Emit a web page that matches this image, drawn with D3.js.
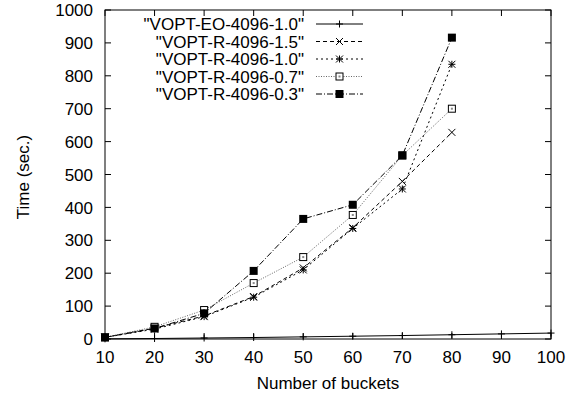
<!DOCTYPE html>
<html><head><meta charset="utf-8">
<script src="https://cdn.jsdelivr.net/npm/d3@7"></script>
<style>body{margin:0;background:#fff}svg{display:block}text{font-family:"Liberation Sans",Arial,sans-serif;fill:#000}</style>
</head><body>
<script>
const buckets = [10,20,30,40,50,60,70,80,90,100];
const seriesNames = ['"VOPT-EO-4096-1.0"','"VOPT-R-4096-1.5"','"VOPT-R-4096-1.0"','"VOPT-R-4096-0.7"','"VOPT-R-4096-0.3"'];
const eo10  = [0.5,1.5,3,4.5,6.5,8.5,10.5,13,15.5,18];
const r15   = [5,33,70,129,216,338,479,628];
const r10   = [5,30,68,127,210,336,456,835];
const r07   = [5,37,88,170,249,377,558,700];
const r03   = [5,32,78,207,365,408,558,916];
const yTicks = [0,100,200,300,400,500,600,700,800,900,1000];
const xTicks = [10,20,30,40,50,60,70,80,90,100];

const W=577,H=395, L=105, R=551, T=10, B=339;
const svg=d3.select("body").append("svg").attr("width",W).attr("height",H);
const x=d3.scaleLinear().domain([10,100]).range([L,R]);
const y=d3.scaleLinear().domain([0,1000]).range([B,T]);
const FS="17px";

// ticks (mirrored, inward)
const g=svg.append("g");
xTicks.forEach(t=>{
  g.append("line").attr("x1",x(t)).attr("x2",x(t)).attr("y1",B).attr("y2",B-6).attr("stroke","#000");
  g.append("line").attr("x1",x(t)).attr("x2",x(t)).attr("y1",T).attr("y2",T+6).attr("stroke","#000");
  g.append("text").attr("x",x(t)).attr("y",363).attr("text-anchor","middle").style("font-size",FS).text(t);
});
yTicks.forEach(t=>{
  g.append("line").attr("x1",L).attr("x2",L+6).attr("y1",y(t)).attr("y2",y(t)).attr("stroke","#000");
  g.append("line").attr("x1",R).attr("x2",R-6).attr("y1",y(t)).attr("y2",y(t)).attr("stroke","#000");
  g.append("text").attr("x",93).attr("y",y(t)).attr("dy","0.36em").attr("text-anchor","end").style("font-size",FS).text(t);
});
svg.append("rect").attr("x",L).attr("y",T).attr("width",R-L).attr("height",B-T).attr("fill","none").attr("stroke","#000").attr("stroke-width",1);

svg.append("text").attr("transform","translate(29,177) rotate(-90)").attr("text-anchor","middle").style("font-size",FS).text("Time (sec.)");
svg.append("text").attr("x",328).attr("y",389).attr("text-anchor","middle").style("font-size",FS).text("Number of buckets");

const styles=[
  {data:eo10, dash:null, color:"#000", marker:"plus"},
  {data:r15, dash:"4,3", color:"#000", marker:"cross"},
  {data:r10, dash:"2,3", color:"#000", marker:"star"},
  {data:r07, dash:"1,1.5", color:"#666", marker:"box"},
  {data:r03, dash:"6,2,1,2", color:"#000", marker:"fbox"}
];
function marker(sel,type,cx,cy){
  const s=3.5;
  if(type==="plus"||type==="star"){
    sel.append("line").attr("x1",cx-s).attr("x2",cx+s).attr("y1",cy).attr("y2",cy).attr("stroke","#000");
    sel.append("line").attr("x1",cx).attr("x2",cx).attr("y1",cy-s).attr("y2",cy+s).attr("stroke","#000");
  }
  if(type==="cross"||type==="star"){
    sel.append("line").attr("x1",cx-s).attr("x2",cx+s).attr("y1",cy-s).attr("y2",cy+s).attr("stroke","#000");
    sel.append("line").attr("x1",cx-s).attr("x2",cx+s).attr("y1",cy+s).attr("y2",cy-s).attr("stroke","#000");
  }
  if(type==="box"){
    sel.append("rect").attr("x",cx-3.5).attr("y",cy-3.5).attr("width",7).attr("height",7).attr("fill","#fff").attr("stroke","#000");
    sel.append("rect").attr("x",cx-1).attr("y",cy-1).attr("width",2).attr("height",2).attr("fill","#888");
  }
  if(type==="fbox"){
    sel.append("rect").attr("x",cx-4).attr("y",cy-4).attr("width",8).attr("height",8).attr("fill","#000");
  }
}
const line=d3.line().x((d,i)=>x(buckets[i])).y(d=>y(d));
styles.forEach((st,k)=>{
  const gg=svg.append("g");
  gg.append("path").attr("d",line(st.data)).attr("fill","none").attr("stroke",st.color).attr("stroke-width",1).attr("stroke-dasharray",st.dash);
  st.data.forEach((d,i)=>marker(gg,st.marker,x(buckets[i]),y(d)));
  const ly=24+k*17.5;
  gg.append("text").attr("x",304).attr("y",ly).attr("dy","0.36em").attr("text-anchor","end").style("font-size",FS).text(seriesNames[k]);
  gg.append("line").attr("x1",316).attr("x2",363).attr("y1",ly).attr("y2",ly).attr("stroke",st.color).attr("stroke-dasharray",st.dash);
  marker(gg,st.marker,339.5,ly);
});
</script>
</body></html>
